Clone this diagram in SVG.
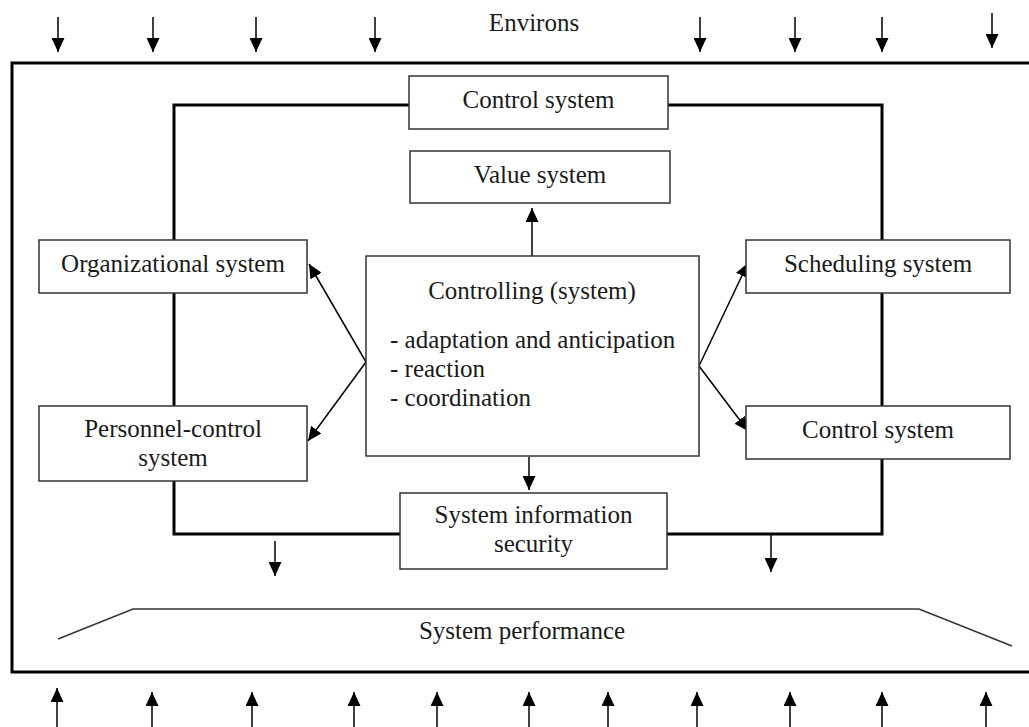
<svg xmlns="http://www.w3.org/2000/svg" width="1029" height="727" viewBox="0 0 1029 727">
<defs>
<style>
.t{font-family:"Liberation Serif","Times New Roman",serif;font-size:25px;fill:#1a1a1a}
.c{text-anchor:middle}
.box{fill:#fff;stroke:#333;stroke-width:1.5}
.thick{fill:none;stroke:#000;stroke-width:3}
.arr{stroke:#000;stroke-width:1.5;fill:none;marker-end:url(#ah)}
.thin{stroke:#333;stroke-width:1.5;fill:none}
</style>
<marker id="ah" markerUnits="userSpaceOnUse" markerWidth="14" markerHeight="13" refX="14" refY="6.5" orient="auto">
<path d="M0,0 L14,6.5 L0,13 z" fill="#000"/>
</marker>
</defs>
<rect width="1029" height="727" fill="#fff"/>

<g id="frame">
<path class="thick" d="M1032,63 H12 V672 H1032"/>
</g>

<g id="environs">
<text class="t c" x="534" y="31">Environs</text>
</g>

<g id="connectors">
<rect class="thick" x="174" y="105" width="708" height="429"/>
<line class="arr" x1="58" y1="17" x2="58" y2="52"/>
<line class="arr" x1="153" y1="17" x2="153" y2="52"/>
<line class="arr" x1="256" y1="17" x2="256" y2="52"/>
<line class="arr" x1="375" y1="17" x2="375" y2="52"/>
<line class="arr" x1="700" y1="17" x2="700" y2="52"/>
<line class="arr" x1="795" y1="17" x2="795" y2="52"/>
<line class="arr" x1="882" y1="17" x2="882" y2="52"/>
<line class="arr" x1="992" y1="13" x2="992" y2="48"/>
<line class="arr" x1="57" y1="727" x2="57" y2="688"/>
<line class="arr" x1="152" y1="727" x2="152" y2="692"/>
<line class="arr" x1="252" y1="727" x2="252" y2="692"/>
<line class="arr" x1="354" y1="727" x2="354" y2="692"/>
<line class="arr" x1="437" y1="727" x2="437" y2="692"/>
<line class="arr" x1="529" y1="727" x2="529" y2="692"/>
<line class="arr" x1="608" y1="727" x2="608" y2="692"/>
<line class="arr" x1="697" y1="727" x2="697" y2="692"/>
<line class="arr" x1="790" y1="727" x2="790" y2="692"/>
<line class="arr" x1="882" y1="727" x2="882" y2="692"/>
<line class="arr" x1="986" y1="727" x2="986" y2="692"/>
<line class="arr" x1="532" y1="256" x2="532" y2="208"/>
<line class="arr" x1="529" y1="457" x2="529" y2="490"/>
<line class="arr" x1="366" y1="362" x2="309" y2="264"/>
<line class="arr" x1="366" y1="362" x2="308" y2="441"/>
<line class="arr" x1="699" y1="366" x2="748" y2="263"/>
<line class="arr" x1="699" y1="366" x2="748" y2="431"/>
<line class="arr" x1="275" y1="541" x2="275" y2="576"/>
<line class="arr" x1="771" y1="535" x2="771" y2="572"/>
<path class="thin" d="M58,639 L133,609 H919 L1012,646"/>
</g>

<g id="control-top">
<rect class="box" x="409" y="76" width="259" height="53"/>
<text class="t c" x="538.5" y="108">Control system</text>
</g>
<g id="value">
<rect class="box" x="410" y="151" width="260" height="52"/>
<text class="t c" x="540" y="182.5">Value system</text>
</g>
<g id="organizational">
<rect class="box" x="39" y="240" width="268" height="53"/>
<text class="t c" x="173" y="272">Organizational system</text>
</g>
<g id="personnel">
<rect class="box" x="39" y="406" width="268" height="75"/>
<text class="t c" x="173" y="437">Personnel-control</text>
<text class="t c" x="173" y="466">system</text>
</g>
<g id="controlling">
<rect class="box" x="366" y="256" width="333" height="200"/>
<text class="t c" x="532" y="299">Controlling (system)</text>
<text class="t" x="390" y="348">- adaptation and anticipation</text>
<text class="t" x="390" y="377">- reaction</text>
<text class="t" x="390" y="406">- coordination</text>
</g>
<g id="scheduling">
<rect class="box" x="746" y="240" width="264" height="53"/>
<text class="t c" x="878" y="272">Scheduling system</text>
</g>
<g id="control-right">
<rect class="box" x="746" y="406" width="264" height="53"/>
<text class="t c" x="878" y="438">Control system</text>
</g>
<g id="security">
<rect class="box" x="400" y="493" width="267" height="76"/>
<text class="t c" x="533.5" y="523">System information</text>
<text class="t c" x="533.5" y="552">security</text>
</g>
<g id="performance">
<text class="t c" x="522" y="639">System performance</text>
</g>
</svg>
